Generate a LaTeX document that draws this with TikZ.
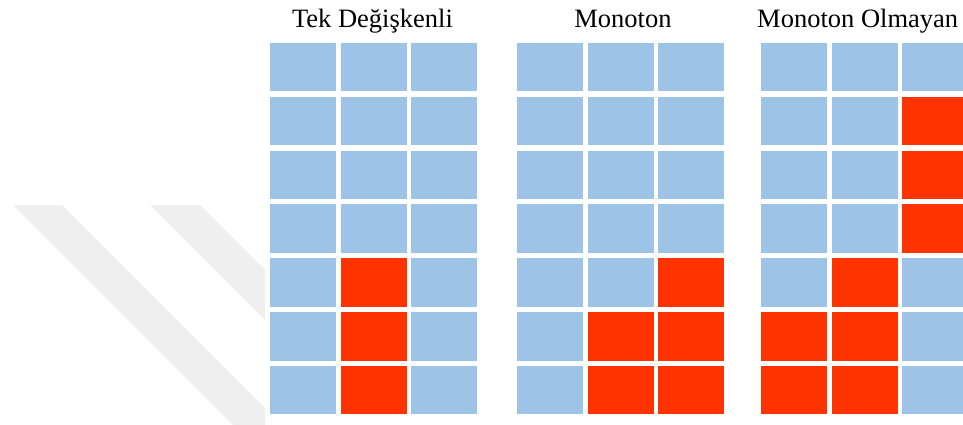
\documentclass[tikz,border=0pt]{standalone}
\usepackage{fontspec}
\setmainfont{Liberation Serif}
\usepackage{xcolor}
\definecolor{celdaazul}{HTML}{9DC3E6}
\definecolor{celdaroja}{HTML}{FF3300}
\definecolor{sello}{HTML}{EFEFEF}

\begin{document}
\begin{tikzpicture}[x=1pt,y=-1pt,
        titulo/.style={font=\fontsize{26.5}{30}\selectfont, inner sep=0pt, anchor=base},
        azul/.style={fill=celdaazul},
        roja/.style={fill=celdaroja}]
        \useasboundingbox (0,0) rectangle (963,425);

        % Marca de agua
        \begin{scope}
            \clip (0,0) rectangle (265,425);
            \fill[sello] (13,205) -- (62,205) -- (282,425) -- (233,425) -- cycle;
            \fill[sello] (150,205) -- (200,205) -- (420,425) -- (370,425) -- cycle;
        \end{scope}

        % Títulos
        \node[titulo] (tek) at (372.5,28) {Tek Değişkenli};
        \node[titulo] (mono) at (623,28) {Monoton};
        \node[titulo, anchor=base west] (nomono) at (757,28) {Monoton Olmayan};

        % Rejillas (3 columnas x 7 filas)
        \foreach \x in {270,517,761} {
            \foreach \c in {0,1,2} {
                \foreach \r in {0,...,6} {
                    \fill[azul] (\x+\c*70.5, 43+\r*53.8) rectangle ++(66,48.5);
                }
            }
        }

        % Celdas activas
        \foreach \x/\c/\r in {270/1/4, 270/1/5, 270/1/6,
                              517/2/4, 517/2/5, 517/2/6, 517/1/5, 517/1/6,
                              761/2/1, 761/2/2, 761/2/3, 761/1/4, 761/1/5, 761/1/6, 761/0/5, 761/0/6} {
            \fill[roja] (\x+\c*70.5, 43+\r*53.8) rectangle ++(66,48.5);
        }
    \end{tikzpicture}
\end{document}
